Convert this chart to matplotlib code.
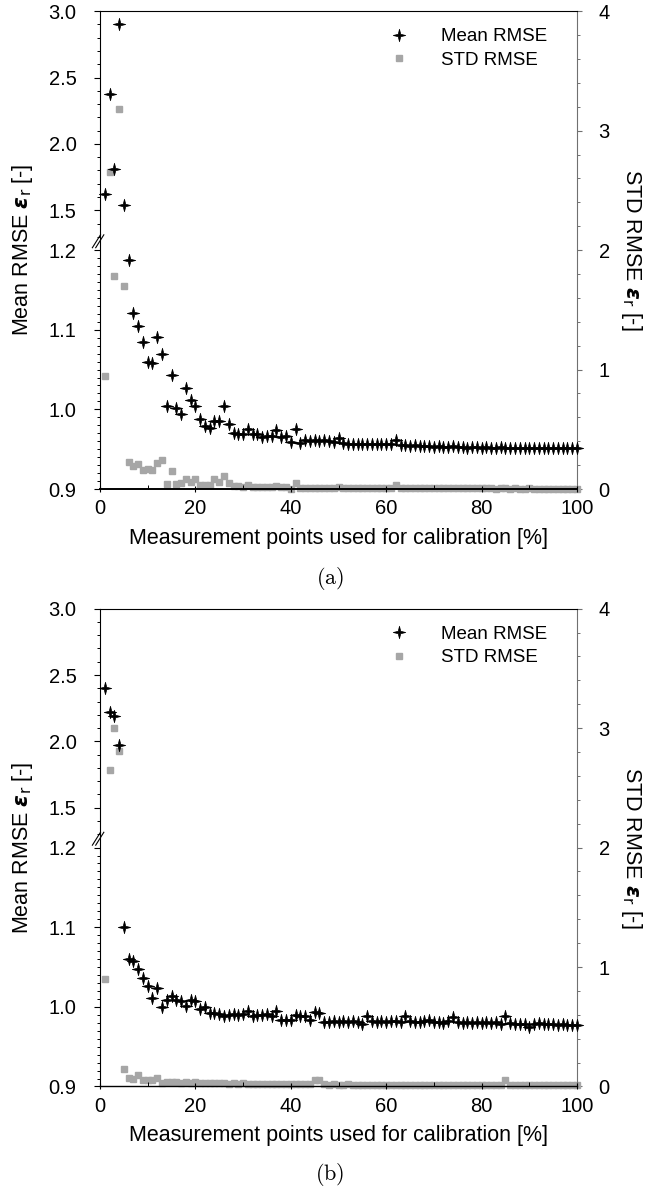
import matplotlib
matplotlib.use("Agg")
import matplotlib.pyplot as plt
import numpy as np
from matplotlib.path import Path
from matplotlib.ticker import FixedLocator, MultipleLocator, FixedFormatter

plt.rcParams["font.family"] = ["Liberation Sans", "DejaVu Sans"]

points = list(range(1, 101))

mean_a = [
    1.62, 2.38, 1.81, 2.90, 1.54, 1.188, 1.121, 1.105, 1.084, 1.060,
    1.058, 1.091, 1.070, 1.004, 1.043, 1.002, 0.994, 1.027, 1.012, 1.004,
    0.988, 0.979, 0.977, 0.985, 0.986, 1.004, 0.982, 0.970, 0.969, 0.969,
    0.975, 0.969, 0.969, 0.965, 0.967, 0.966, 0.974, 0.965, 0.967, 0.959,
    0.975, 0.958, 0.961, 0.960, 0.961, 0.960, 0.961, 0.960, 0.959, 0.964,
    0.958, 0.957, 0.957, 0.956, 0.957, 0.956, 0.957, 0.956, 0.956, 0.956,
    0.957, 0.961, 0.955, 0.955, 0.954, 0.955, 0.954, 0.954, 0.954, 0.953,
    0.954, 0.953, 0.953, 0.954, 0.953, 0.953, 0.952, 0.953, 0.953, 0.952,
    0.953, 0.952, 0.952, 0.953, 0.952, 0.952, 0.952, 0.951, 0.952, 0.952,
    0.951, 0.952, 0.951, 0.951, 0.952, 0.951, 0.951, 0.951, 0.951, 0.951,
]
std_a = [
    0.95, 2.65, 1.78, 3.18, 1.70, 0.23, 0.19, 0.21, 0.155, 0.17,
    0.16, 0.215, 0.245, 0.045, 0.15, 0.045, 0.05, 0.08, 0.055, 0.08,
    0.035, 0.035, 0.03, 0.085, 0.055, 0.11, 0.05, 0.028, 0.025, 0.02,
    0.035, 0.02, 0.02, 0.015, 0.02, 0.02, 0.025, 0.015, 0.02, 0.0,
    0.05, 0.01, 0.012, 0.01, 0.012, 0.01, 0.01, 0.012, 0.01, 0.018,
    0.01, 0.008, 0.01, 0.008, 0.01, 0.008, 0.008, 0.01, 0.008, 0.008,
    0.01, 0.03, 0.008, 0.006, 0.008, 0.006, 0.006, 0.008, 0.006, 0.006,
    0.006, 0.005, 0.006, 0.005, 0.006, 0.005, 0.005, 0.006, 0.005, 0.005,
    0.005, 0.005, 0.004, 0.005, 0.005, 0.004, 0.005, 0.004, 0.004, 0.005,
    0.004, 0.004, 0.004, 0.004, 0.004, 0.004, 0.004, 0.004, 0.004, 0.004,
]
mean_b = [
    2.40, 2.22, 2.19, 1.97, 1.100, 1.060, 1.058, 1.047, 1.036, 1.026,
    1.011, 1.024, 1.000, 1.008, 1.013, 1.008, 1.007, 1.001, 1.009, 1.007,
    0.997, 1.000, 0.992, 0.992, 0.991, 0.988, 0.990, 0.991, 0.990, 0.991,
    0.995, 0.988, 0.990, 0.990, 0.991, 0.988, 0.995, 0.984, 0.984, 0.983,
    0.990, 0.989, 0.989, 0.984, 0.994, 0.992, 0.981, 0.981, 0.982, 0.981,
    0.982, 0.981, 0.982, 0.981, 0.979, 0.988, 0.982, 0.981, 0.982, 0.981,
    0.982, 0.982, 0.981, 0.988, 0.982, 0.981, 0.981, 0.982, 0.984, 0.981,
    0.981, 0.980, 0.982, 0.987, 0.981, 0.980, 0.981, 0.980, 0.981, 0.980,
    0.981, 0.980, 0.981, 0.979, 0.988, 0.980, 0.979, 0.979, 0.978, 0.975,
    0.979, 0.980, 0.979, 0.978, 0.978, 0.977, 0.978, 0.977, 0.977, 0.977,
]
std_b = [
    0.90, 2.65, 3.00, 2.81, 0.15, 0.07, 0.06, 0.10, 0.05, 0.05,
    0.05, 0.07, 0.03, 0.035, 0.04, 0.035, 0.03, 0.035, 0.03, 0.035,
    0.025, 0.03, 0.025, 0.025, 0.028, 0.025, 0.022, 0.025, 0.022, 0.025,
    0.022, 0.02, 0.022, 0.02, 0.022, 0.02, 0.02, 0.022, 0.02, 0.02,
    0.018, 0.02, 0.018, 0.02, 0.05, 0.05, 0.018, 0.016, 0.018, 0.016,
    0.016, 0.018, 0.016, 0.015, 0.016, 0.015, 0.016, 0.015, 0.015, 0.016,
    0.015, 0.015, 0.016, 0.015, 0.014, 0.015, 0.014, 0.015, 0.014, 0.014,
    0.015, 0.014, 0.014, 0.014, 0.013, 0.014, 0.014, 0.013, 0.014, 0.013,
    0.013, 0.014, 0.013, 0.013, 0.05, 0.013, 0.012, 0.013, 0.012, 0.012,
    0.012, 0.013, 0.012, 0.012, 0.012, 0.012, 0.012, 0.012, 0.012, 0.012,
]

left_ticks = [0.9, 1.0, 1.1, 1.2, 1.5, 2.0, 2.5, 3.0]
right_ticks = [0, 1, 2, 3, 4]
x_ticks = [0, 20, 40, 60, 80, 100]

BREAK = 1.2
SQUEEZE = 6.0


def fwd(y):
    y = np.asarray(y, dtype=float)
    return np.where(y <= BREAK, y, BREAK + (y - BREAK) / SQUEEZE)


def inv(z):
    z = np.asarray(z, dtype=float)
    return np.where(z <= BREAK, z, BREAK + (z - BREAK) * SQUEEZE)


# four pointed star for the mean marker
r_in = 0.28
star_verts = []
for k in range(8):
    ang = np.pi / 2 + k * np.pi / 4
    r = 1.0 if k % 2 == 0 else r_in
    star_verts.append((r * np.cos(ang), r * np.sin(ang)))
star_verts.append(star_verts[0])
star = Path(star_verts, closed=True)

GRAY = "#a6a6a6"
minor_left = [round(0.9 + 0.01 * i, 2) for i in range(31)] + [1.3, 1.4, 1.6, 1.7, 1.8, 1.9,
                                                            2.1, 2.2, 2.3, 2.4, 2.6, 2.7, 2.8, 2.9]

fig = plt.figure(figsize=(6.46, 11.93), dpi=100)

panels = [
    (mean_a, std_a, 0.5901, "(a)", 578),
    (mean_b, std_b, 0.0893, "(b)", 1174),
]

for mean_vals, std_vals, bottom, tag, tag_y in panels:
    ax = fig.add_axes([0.1548, bottom, 0.7384, 0.4005])
    ax2 = ax.twinx()
    ax.set_zorder(ax2.get_zorder() + 1)
    ax.patch.set_visible(False)

    ax2.plot(points, std_vals, linestyle="none", marker="s", ms=3.9,
             color=GRAY, mec=GRAY, label="STD RMSE", clip_on=False)
    ax.plot(points, mean_vals, linestyle="none", marker=star, ms=9,
            color="black", mec="black", mew=0.5, label="Mean RMSE", clip_on=False)

    ax.set_xlim(0, 100)
    ax.set_yscale("function", functions=(fwd, inv))
    ax.set_ylim(0.9, 3.0)
    ax2.set_ylim(0, 4)

    ax.yaxis.set_major_locator(FixedLocator(left_ticks))
    ax.yaxis.set_major_formatter(FixedFormatter([f"{t:.1f}" for t in left_ticks]))
    ax.yaxis.set_minor_locator(FixedLocator(minor_left))
    ax.set_xticks(x_ticks)
    ax.xaxis.set_minor_locator(MultipleLocator(10))
    ax2.set_yticks(right_ticks)
    ax2.yaxis.set_minor_locator(MultipleLocator(0.2))

    ax.tick_params(axis="y", which="major", direction="out", length=4, width=0.8,
                   labelsize=14.5, pad=13)
    ax.tick_params(axis="y", which="minor", direction="out", length=2.5, width=0.7)
    ax.tick_params(axis="x", which="major", direction="inout", length=5, width=0.8,
                   labelsize=14.5, pad=5)
    ax.tick_params(axis="x", which="minor", direction="in", length=3, width=0.7)
    ax2.tick_params(axis="y", which="major", direction="out", length=3.5, width=0.8,
                    labelsize=14.5, pad=12, color="#707070")
    ax2.tick_params(axis="y", which="minor", direction="out", length=2.5, width=0.7,
                    color="#707070")

    for side in ["left", "top", "bottom"]:
        ax2.spines[side].set_visible(False)
    ax.spines["right"].set_visible(False)
    ax2.spines["right"].set_color("#707070")
    ax.spines["bottom"].set_linewidth(1.4 if tag == "(a)" else 1.0)

    # axis break marks
    for dx in (0.0, 0.007):
        ax.plot([-0.016 + dx, 0.001 + dx], [0.505, 0.532], transform=ax.transAxes,
                color="black", lw=0.8, clip_on=False)

    ax.set_xlabel("Measurement points used for calibration [%]", fontsize=15.5)
    ax.xaxis.set_label_coords(0.5, -0.103)
    ax.xaxis.label.set_va("center")
    ax.set_ylabel(r"Mean RMSE $\mathbfit{\varepsilon}_\mathrm{r}$ [-]", fontsize=15.5)
    ax.yaxis.set_label_coords(-0.163, 0.5)
    ax.yaxis.label.set_va("center")
    ax2.set_ylabel(r"STD RMSE $\mathbfit{\varepsilon}_\mathrm{r}$ [-]", fontsize=15.5,
                   rotation=-90)
    ax2.yaxis.set_label_coords(1.115, 0.5)
    ax2.yaxis.label.set_va("center")

    h1, l1 = ax.get_legend_handles_labels()
    h2, l2 = ax2.get_legend_handles_labels()
    ax.legend(h1 + h2, l1 + l2, loc="upper right", bbox_to_anchor=(0.962, 0.988),
              frameon=False, fontsize=13.5, handletextpad=1.25, labelspacing=0.35,
              borderaxespad=0.2)

    fig.text(330 / 646, 1 - tag_y / 1193, r"$\mathrm{" + tag + "}$", fontsize=16,
             ha="center", va="center", math_fontfamily="cm")

fig.savefig("out.png", dpi=100)
plt.close(fig)
